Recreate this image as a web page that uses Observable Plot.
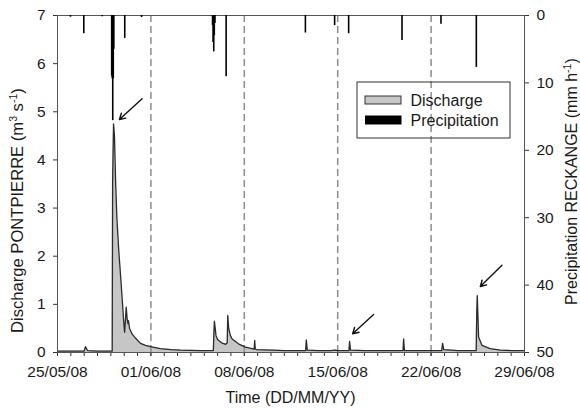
<!DOCTYPE html>
<html><head><meta charset="utf-8">
<script src="https://cdn.jsdelivr.net/npm/d3@7"></script>
<script src="https://cdn.jsdelivr.net/npm/@observablehq/plot@0.6"></script>
<style>
body{margin:0;background:#fff;}
#chart{position:relative;width:580px;height:409px;font-family:"Liberation Sans",Arial,sans-serif;}
#chart svg{position:absolute;left:0;top:0;overflow:visible;}
</style></head><body><div id="chart"></div>
<script>
// ---- data (days since 25/05/08 00:00 UTC) ----
const startLabel = "25/05/08";
const endLabel = "29/06/08";
const weekTickLabels = ["25/05/08","01/06/08","08/06/08","15/06/08","22/06/08","29/06/08"];
const dashedLabels = ["01/06/08","08/06/08","15/06/08","22/06/08"];

const dischargeDay = [0,1,2.0,2.1,2.25,3,4.10,4.13,4.2,4.27,4.35,4.45,4.59,4.77,4.9,5.0,5.03,5.1,5.15,5.22,5.28,5.32,5.4,5.6,5.84,6.22,6.6,6.97,7.7,8.5,9.2,10.7,11.68,11.72,11.76,11.82,11.88,12.0,12.3,12.6,12.72,12.76,12.83,12.96,13.09,13.56,14.08,14.74,14.78,14.82,14.9,16,17,18.6,18.65,18.72,19.5,20.5,20.8,21.0,21.85,21.89,21.96,23,25.9,25.94,26,27,28.8,28.86,28.95,30,31.38,31.42,31.46,31.56,31.81,32.43,33.18,34,35];
const dischargeValue = [0.03,0.03,0.03,0.12,0.04,0.03,0.03,3.5,4.75,4.5,3.6,2.8,2.12,1.43,0.9,0.5,0.42,0.7,0.94,0.7,0.6,0.66,0.5,0.38,0.3,0.19,0.15,0.12,0.08,0.06,0.05,0.04,0.04,0.4,0.65,0.5,0.35,0.27,0.2,0.17,0.2,0.77,0.5,0.35,0.28,0.18,0.11,0.07,0.25,0.08,0.06,0.05,0.04,0.04,0.26,0.05,0.04,0.04,0.05,0.04,0.04,0.23,0.05,0.04,0.04,0.28,0.04,0.04,0.04,0.19,0.06,0.04,0.04,0.8,1.18,0.32,0.15,0.08,0.05,0.04,0.04];

const precipDay = [0.97,1.97,3.35,4.06,4.10,4.14,4.18,4.22,5.04,6.3,11.62,11.66,11.71,11.75,11.8,12.64,18.58,20.77,21.82,25.82,28.74,31.39];
const precipValue = [0.25,2.7,0.2,9.0,9.4,15.6,9.4,5.0,3.4,0.3,1.5,4.0,5.4,3.0,1.2,9.1,2.6,1.5,2.7,3.7,1.3,7.7];

// annotation arrows (day, discharge) tail -> head
const arrowTailDay = [6.34,23.69,33.31];
const arrowTailValue = [5.27,0.79,1.81];
const arrowHeadDay = [4.64,22.12,31.69];
const arrowHeadValue = [4.84,0.39,1.37];

const leftTicks = [0,1,2,3,4,5,6,7];
const rightTicks = [0,10,20,30,40,50];

// ---- build ----
const FONT = '"Liberation Sans",Arial,sans-serif';
const parse = d3.utcParse("%d/%m/%y");
const fmt = d3.utcFormat("%d/%m/%y");
const t0 = parse(startLabel), t1 = parse(endLabel);
const dayToDate = d => new Date(+t0 + d * 864e5);
const discharge = dischargeDay.map((d,i)=>({date:dayToDate(d), q:dischargeValue[i]}));
const precip = precipDay.map((d,i)=>({date:dayToDate(d), p:precipValue[i]}));
const arrows = arrowTailDay.map((d,i)=>({x1:dayToDate(d), y1:arrowTailValue[i], x2:dayToDate(arrowHeadDay[i]), y2:arrowHeadValue[i]}));
const weekTicks = weekTickLabels.map(parse);
const dashed = dashedLabels.map(parse);
const days = d3.utcDay.range(t0, new Date(+t1 + 1));

const common = {
  width:580, height:409, marginLeft:57, marginRight:56, marginTop:15, marginBottom:57,
  style:{fontFamily:FONT, fontSize:"15.5px", color:"#1a1a1a", background:"transparent", overflow:"visible"}
};

const p1 = Plot.plot({
  ...common,
  x:{type:"utc", domain:[t0,t1]},
  y:{domain:[0,7]},
  marks:[
    Plot.areaY(discharge,{x:"date", y:"q", fill:"#c6c6c6"}),
    Plot.ruleX(dashed,{x:d=>d, y1:0, y2:7, stroke:"#8c8c8c", strokeWidth:1.5, strokeDasharray:"7,4"}),
    Plot.lineY(discharge,{x:"date", y:"q", stroke:"#2a2a2a", strokeWidth:1.3}),
    Plot.arrow(arrows,{x1:"x1", y1:"y1", x2:"x2", y2:"y2", stroke:"#111", strokeWidth:1.4, headLength:7}),
    Plot.axisX({ticks:days, tickSize:4, tickFormat:()=>"", label:null, stroke:"#333"}),
    Plot.axisX({ticks:weekTicks, tickSize:4, tickPadding:9, tickFormat:fmt, label:null, stroke:"#333"}),
    Plot.axisY({ticks:leftTicks, tickSize:4, tickPadding:8, tickFormat:d3.format("d"), label:null, stroke:"#333"}),
    Plot.frame({stroke:"#555"})
  ]
});

const p2 = Plot.plot({
  ...common,
  x:{type:"utc", domain:[t0,t1], axis:null},
  y:{domain:[0,50], reverse:true},
  marks:[
    Plot.ruleX(precip,{x:"date", y1:0, y2:"p", stroke:"#000", strokeWidth:1.6}),
    Plot.axisY({anchor:"right", ticks:rightTicks, tickSize:4, tickPadding:8, tickFormat:d3.format("d"), label:null, stroke:"#333"})
  ]
});

const chart = document.getElementById("chart");
chart.append(p1, p2);

const svg = d3.select(p2);
const g = svg.append("g").attr("fill","#1a1a1a").attr("text-anchor","start").style("font-size","16px").style("font-family",FONT);

// axis titles
g.append("text").attr("x",290.5).attr("y",403).attr("text-anchor","middle").text("Time (DD/MM/YY)");

const lt = g.append("text").attr("transform","translate(23,333) rotate(-90)").attr("text-anchor","start").style("font-size","16.6px");
lt.append("tspan").text("Discharge PONTPIERRE (m");
lt.append("tspan").attr("dy",-6).style("font-size","10.5px").text("3");
lt.append("tspan").attr("dy",6).text(" s");
lt.append("tspan").attr("dy",-6).style("font-size","10.5px").text("-1");
lt.append("tspan").attr("dy",6).text(")");

const rt = g.append("text").attr("transform","translate(577,305) rotate(-90)").attr("text-anchor","start");
rt.append("tspan").text("Precipitation RECKANGE (mm h");
rt.append("tspan").attr("dy",-6).style("font-size","10.5px").text("-1");
rt.append("tspan").attr("dy",6).text(")");

// legend
const lg = svg.append("g").attr("text-anchor","start").style("font-size","16px").style("font-family",FONT);
lg.append("rect").attr("x",357).attr("y",82).attr("width",153).attr("height",56).attr("fill","none").attr("stroke","#333").attr("stroke-width",1);
lg.append("rect").attr("x",365).attr("y",96).attr("width",36).attr("height",8).attr("fill","#c6c6c6").attr("stroke","#333").attr("stroke-width",1);
lg.append("rect").attr("x",365).attr("y",115.5).attr("width",36.5).attr("height",9).attr("fill","#000");
lg.append("text").attr("x",410.5).attr("y",106).attr("fill","#1a1a1a").text("Discharge");
lg.append("text").attr("x",410.5).attr("y",125.5).attr("fill","#1a1a1a").text("Precipitation");
</script></body></html>
